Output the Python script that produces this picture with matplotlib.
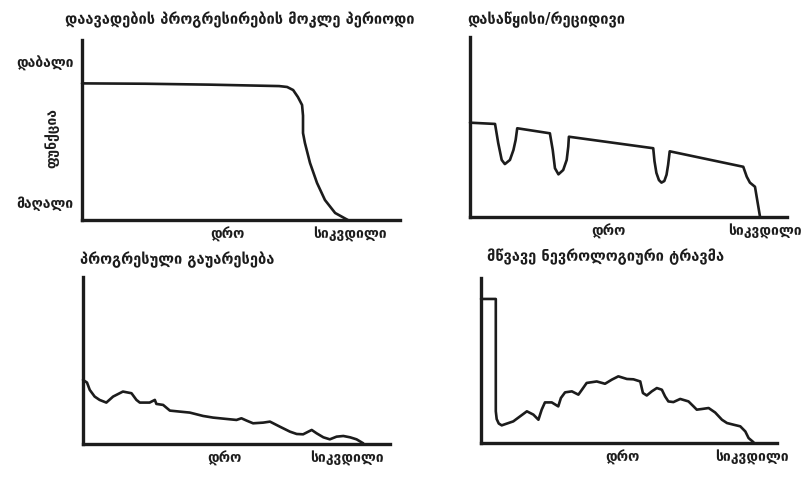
import matplotlib
matplotlib.use("Agg")
import matplotlib.pyplot as plt

plt.rcParams['font.family'] = ['DejaVu Sans']

# --- data (time 0..100, function 0..100) ---
titles = ["დაავადების პროგრესირების მოკლე პერიოდი",
          "დასაწყისი/რეციდივი",
          "პროგრესული გაუარესება",
          "მწვავე ნევროლოგიური ტრავმა"]
x_time_label = "დრო"
x_death_label = "სიკვდილი"
y_labels = ["დაბალი", "მაღალი"]
y_title = "ფუნქცია"

# short period of progression
t1 = [0, 20, 40, 62, 64.5, 66.4, 67.9, 69.2, 69.5, 69.5, 70.1, 71.7, 73.9, 76.4, 79.6, 83.6]
f1 = [75.9, 75.7, 75.2, 74.4, 73.9, 72.2, 68.3, 63.9, 58.0, 48.3, 42.8, 31.7, 20.6, 11.1, 3.9, 0]

# onset / relapse
t2 = [0, 7.9, 8.9, 10.0, 11.0, 12.6, 13.7, 14.4, 14.9,
      25.2, 26.1, 26.8, 27.9, 29.4, 30.5, 31.0, 31.2,
      57.8, 58.2, 58.8, 59.6, 60.4, 61.3, 62.0, 62.5, 62.8, 63.0,
      86.2, 87.3, 88.3, 89.9, 91.5]
f2 = [52.4, 51.7, 41.1, 31.7, 29.4, 31.7, 37.2, 42.8, 49.3,
      46.5, 37.2, 27.1, 23.7, 26.1, 31.7, 39.1, 44.6,
      38.2, 31.0, 24.5, 20.5, 19.1, 20.0, 23.5, 29.0, 33.5, 36.5,
      27.9, 22.4, 19.1, 16.8, 0]

# progressive worsening
t3 = [0, 1.3, 2.2, 3.8, 5.4, 7.6, 9.8, 13.0, 15.8, 17.4, 18.5, 21.7, 23.4, 23.9, 26.1,
      28.3, 31.5, 34.8, 39.1, 42.4, 46.7, 50.0, 51.6, 53.3, 55.4, 58.7, 60.9, 64.1, 67.4,
      69.6, 71.7, 73.4, 74.5, 76.1, 78.3, 80.4, 82.6, 84.8, 87.0, 89.1, 91.3]
f3 = [38.4, 36.8, 32.4, 28.4, 26.4, 24.8, 28.4, 31.4, 30.4, 26.4, 24.8, 24.8, 26.4, 24.0, 23.4,
      20.0, 19.4, 18.8, 16.8, 15.8, 15.0, 14.4, 15.4, 14.0, 12.4, 12.8, 13.4, 10.4, 7.4,
      6.0, 5.8, 7.4, 8.4, 6.4, 4.0, 2.8, 4.4, 4.8, 4.0, 2.8, 0.4]

# acute neurological trauma
t4 = [0, 5.0, 5.0, 5.3, 6.0, 7.0, 10.9, 15.5, 17.7, 19.4, 20.5, 21.6, 23.9, 26.1, 27.0, 28.4,
      30.7, 32.9, 34.1, 35.7, 39.1, 41.9, 44.2, 46.4, 49.3, 51.5, 53.8, 54.7, 56.0,
      57.7, 59.4, 61.1, 62.2, 63.3, 65.0, 67.3, 70.1, 71.8, 72.9, 74.6, 76.9, 79.1,
      81.4, 83.1, 85.3, 87.6, 89.3, 90.4, 92.1]
f4 = [87.3, 87.3, 19.2, 14.5, 11.8, 10.7, 13.1, 19.2, 17.2, 14.1, 20.2, 24.6, 24.6, 22.2, 27.3, 30.7,
      31.3, 29.3, 32.3, 36.4, 37.3, 35.9, 38.4, 40.4, 38.8, 38.6, 37.3, 30.3, 28.8,
      31.3, 33.3, 32.3, 28.2, 25.2, 24.8, 26.7, 25.2, 22.2, 20.2, 20.6, 21.2, 18.5,
      14.1, 12.1, 11.1, 10.1, 7.0, 3.0, 0.4]

series = [(t1, f1), (t2, f2), (t3, f3), (t4, f4)]
label_ticks = [[45.6, 84.3], [43.5, 93.0], [46.0, 86.0], [47.6, 91.5]]

W, H = 810, 478
# panel boxes in pixels: left, right, top, bottom
boxes = [(82, 400, 40, 220), (470, 787, 37, 217), (83, 390, 277, 444), (481, 777, 278, 443)]
title_pos = [(65, 20), (467, 20), (80, 260), (487, 257)]

ink = "#1c1c1c"
txt = dict(fontsize=10, fontweight='bold', color=ink)
fig = plt.figure(figsize=(W / 100, H / 100), dpi=100)

for i, ((l, r, top, b), (t, f)) in enumerate(zip(boxes, series)):
    ax = fig.add_axes([l / W, 1 - b / H, (r - l) / W, (b - top) / H])
    ax.plot(t, f, color=ink, lw=1.9, solid_joinstyle='round', solid_capstyle='round',
            clip_on=False)
    ax.set_xlim(0, 100)
    ax.set_ylim(0, 100)
    for s in ['top', 'right']:
        ax.spines[s].set_visible(False)
    for s in ['left', 'bottom']:
        ax.spines[s].set_linewidth(2.4)
        ax.spines[s].set_color(ink)
    ax.set_xticks(label_ticks[i])
    ax.set_xticklabels([x_time_label, x_death_label], **txt)
    ax.tick_params(axis='x', length=0, pad=5)
    if i == 0:
        ax.set_yticks([87.8, 10])
        ax.set_yticklabels(y_labels, **txt)
        ax.tick_params(axis='y', length=0, pad=6)
        ax.text(-0.094, 0.456, y_title, transform=ax.transAxes, rotation=90,
                ha='center', va='center', **txt)
    else:
        ax.set_yticks([])
    tx, ty = title_pos[i]
    fig.text(tx / W, 1 - ty / H, titles[i], ha='left', va='center',
             fontsize=10.5, fontweight='bold', color=ink)

fig.savefig("out.png", dpi=100)
